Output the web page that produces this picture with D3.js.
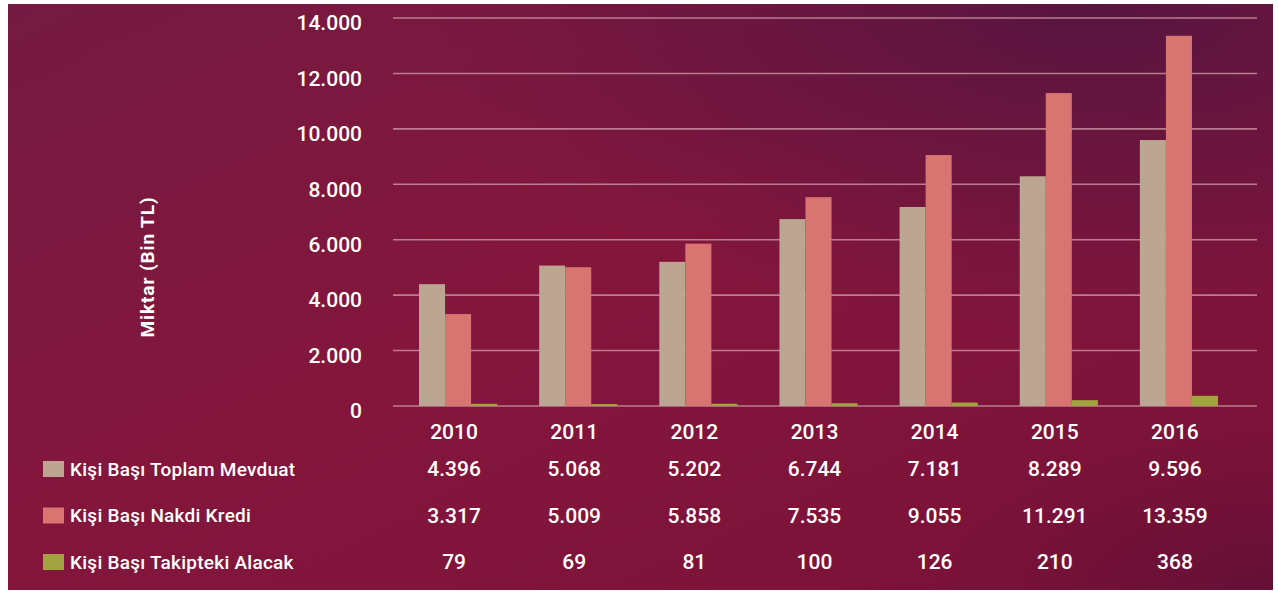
<!DOCTYPE html>
<html><head><meta charset="utf-8">
<script src="https://cdn.jsdelivr.net/npm/d3@7/dist/d3.min.js"></script>
<style>html,body{margin:0;padding:0;background:#fff;}svg{display:block;}</style>
</head><body>
<svg id="c" width="1278" height="591"></svg>
<script>
const years = ["2010","2011","2012","2013","2014","2015","2016"];
const seriesNames = ["Kişi Başı Toplam Mevduat","Kişi Başı Nakdi Kredi","Kişi Başı Takipteki Alacak"];
const mevduat = [4396,5068,5202,6744,7181,8289,9596];
const kredi = [3317,5009,5858,7535,9055,11291,13359];
const takip = [79,69,81,100,126,210,368];
const yTicks = [0,2000,4000,6000,8000,10000,12000,14000];
const colors = ["#bda691","#d97571","#a2a43f"];
const seriesValues = [mevduat, kredi, takip];

const svg = d3.select("#c");
const defs = svg.append("defs");
const lg = defs.append("linearGradient").attr("id","bg").attr("x1","0").attr("y1","0").attr("x2","1").attr("y2","1");
lg.append("stop").attr("offset","0").attr("stop-color","#741a42");
lg.append("stop").attr("offset","0.45").attr("stop-color","#84163c");
lg.append("stop").attr("offset","1").attr("stop-color","#7a1138");
const rg = defs.append("radialGradient").attr("id","tr").attr("cx","0.86").attr("cy","0").attr("r","0.55");
rg.append("stop").attr("offset","0").attr("stop-color","#561540").attr("stop-opacity",1);
rg.append("stop").attr("offset","0.6").attr("stop-color","#5e1540").attr("stop-opacity",0.5);
rg.append("stop").attr("offset","1").attr("stop-color","#6a1640").attr("stop-opacity",0);
const rg2 = defs.append("radialGradient").attr("id","br").attr("cx","1").attr("cy","1").attr("r","0.3");
rg2.append("stop").attr("offset","0").attr("stop-color","#5e1034").attr("stop-opacity",0.8);
rg2.append("stop").attr("offset","1").attr("stop-color","#6a1036").attr("stop-opacity",0);

svg.append("rect").attr("x",8).attr("y",4).attr("width",1265).attr("height",586).attr("fill","url(#bg)");
svg.append("rect").attr("x",8).attr("y",4).attr("width",1265).attr("height",586).attr("fill","url(#tr)");
svg.append("rect").attr("x",8).attr("y",4).attr("width",1265).attr("height",586).attr("fill","url(#br)");

const x = d3.scaleBand().domain(years).range([398,1239]).paddingInner(0.35).paddingOuter(0.175);
const xs = d3.scaleBand().domain(d3.range(3)).range([0,x.bandwidth()]);
const y = d3.scaleLinear().domain([0,14000]).range([406,18]);

const font = "Roboto, 'DejaVu Sans', sans-serif";

// gridlines
svg.append("g").selectAll("line").data(yTicks).join("line")
  .attr("x1",393).attr("x2",1257)
  .attr("y1",d=>y(d)).attr("y2",d=>y(d))
  .attr("stroke","#c98ea0").attr("stroke-opacity",0.85).attr("stroke-width",1.6);

// y tick labels
const fmt = d3.formatLocale({decimal:",",thousands:".",grouping:[3],currency:["","TL"]}).format(",d");
svg.append("g").selectAll("text").data(yTicks).join("text")
  .attr("x",362).attr("y",d=>y(d)+5).attr("dy","0.35em")
  .attr("text-anchor","end").attr("fill","#fff")
  .style("font-family",font).style("font-size","21px").style("font-weight",500)
  .text(d=>fmt(d));

// bars
const gBars = svg.append("g");
seriesValues.forEach((vals,si)=>{
  gBars.append("g").selectAll("rect").data(vals).join("rect")
    .attr("x",(d,i)=>x(years[i])+xs(si))
    .attr("y",d=>y(d))
    .attr("width",xs.bandwidth())
    .attr("height",d=>y(0)-y(d))
    .attr("fill",colors[si]);
});

// y axis title
svg.append("text").attr("transform","translate(154,267) rotate(-90)")
  .attr("text-anchor","middle").attr("fill","#fff")
  .style("font-family",font).style("font-size","19px").style("font-weight",700)
  .style("letter-spacing","0.9px")
  .text("Miktar (Bin TL)");

// year labels
const cx = d=> x(d)+x.bandwidth()/2-4;
svg.append("g").selectAll("text").data(years).join("text")
  .attr("x",d=>cx(d)).attr("y",432).attr("dy","0.35em")
  .attr("text-anchor","middle").attr("fill","#fff")
  .style("font-family",font).style("font-size","21px").style("font-weight",500)
  .text(d=>d);

// table rows
const rowY = [469,515.5,562];
seriesValues.forEach((vals,si)=>{
  const g = svg.append("g");
  g.append("rect").attr("x",43).attr("y",rowY[si]-8).attr("width",21).attr("height",16).attr("fill",colors[si]);
  g.append("text").attr("x",70).attr("y",rowY[si]).attr("dy","0.35em").attr("fill","#fff")
    .style("font-family",font).style("font-size","19px").style("font-weight",500)
    .style("letter-spacing","0.25px")
    .text(seriesNames[si]);
  g.selectAll("text.v").data(vals).join("text").attr("class","v")
    .attr("x",(d,i)=>cx(years[i])).attr("y",rowY[si]).attr("dy","0.35em")
    .attr("text-anchor","middle").attr("fill","#fff")
    .style("font-family",font).style("font-size","21px").style("font-weight",500)
    .text(d=>fmt(d));
});
</script>
</body></html>
